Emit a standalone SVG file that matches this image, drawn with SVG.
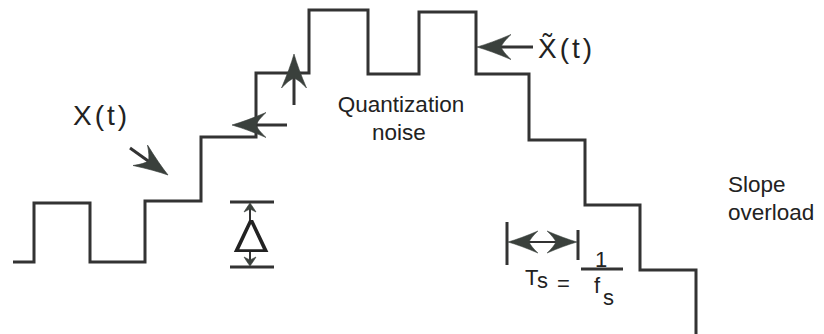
<svg xmlns="http://www.w3.org/2000/svg" xmlns:xlink="http://www.w3.org/1999/xlink" width="824" height="334" viewBox="0 0 824 334">
<style>
.ln{fill:none;stroke:#333;stroke-width:3;stroke-linejoin:miter;stroke-linecap:butt}
.hd{fill:#3a403c;stroke:#3a403c;stroke-width:0.6;stroke-linejoin:round}
.t{font-family:"Liberation Sans",Arial,Helvetica,sans-serif;fill:#222;font-size:22.5px}
.big{font-size:28px;letter-spacing:3px}
.m{font-size:22px}
.dl{font-family:Inter,"Liberation Sans",sans-serif;font-weight:350;font-size:44px}
</style>
<defs>
<path id="head" d="M0,0 Q-14,-4 -34,-12.5 Q-26,-5 -24,0 Q-26,5 -34,12.5 Q-14,4 0,0 Z"/>
<path id="small" d="M0,0 Q-4,-3 -9,-6 Q-7,-2 -6,0 Q-7,2 -9,6 Q-4,3 0,0 Z"/>
</defs>
<rect width="824" height="334" fill="#fff"/>
<g id="staircase">
<path class="ln" d="M13,262 H34 V203 H90 V262 H145 V201 H201 V137 H256 V73 H309 V10 H368 V74 H419 V12 H476 V74 H529 V140 H585 V205 H640 V270 H696 V334"/>
</g>
<g id="connectors">
<line class="ln" x1="130" y1="148" x2="151" y2="163"/>
<use href="#head" class="hd" transform="translate(168,175) rotate(35.4)"/>
<line class="ln" x1="287" y1="125" x2="254" y2="125"/>
<use href="#head" class="hd" transform="translate(232,125) rotate(180)"/>
<line class="ln" x1="294" y1="105" x2="294" y2="76"/>
<use href="#head" class="hd" transform="translate(294,54) rotate(-90)"/>
<line class="ln" x1="533" y1="47" x2="500" y2="47"/>
<use href="#head" class="hd" transform="translate(477,47) rotate(180)"/>
<line class="ln" x1="507" y1="222" x2="507" y2="265"/>
<line class="ln" x1="578" y1="230" x2="578" y2="260"/>
<line class="ln" x1="520" y1="242" x2="565" y2="242" style="stroke-width:2"/>
<use href="#head" class="hd" transform="translate(508,242) rotate(180) scale(0.88)"/>
<use href="#head" class="hd" transform="translate(577,242) scale(0.88)"/>
<line class="ln" x1="230" y1="202" x2="274" y2="202"/>
<line class="ln" x1="230" y1="267" x2="274" y2="267"/>
<line class="ln" x1="250" y1="209" x2="250" y2="220" style="stroke-width:2"/>
<use href="#small" class="hd" transform="translate(250,203) rotate(-90)"/>
<line class="ln" x1="250" y1="251" x2="250" y2="260" style="stroke-width:2"/>
<use href="#small" class="hd" transform="translate(250,266) rotate(90)"/>
</g>
<g id="labels">
<text class="t big" x="73" y="125">X(t)</text>
<text class="t big" x="538" y="58">X&#x303;(t)</text>
<text class="t" x="401" y="112" text-anchor="middle">Quantization</text>
<text class="t" x="399" y="140" text-anchor="middle">noise</text>
<text class="t" x="728" y="192">Slope</text>
<text class="t" x="728" y="220">overload</text>
<text class="t dl" x="0" y="252" text-anchor="middle" transform="translate(251,0) scale(1.3,1)">Δ</text>
<text class="t m" x="525" y="285">T</text>
<text class="t m" x="537" y="288">s</text>
<text class="t m" x="557" y="291">=</text>
<line class="ln" x1="581" y1="269" x2="623" y2="269"/>
<text class="t m" x="601" y="267" text-anchor="middle">1</text>
<text class="t m" x="594" y="293">f</text>
<text class="t m" x="603" y="305">s</text>
</g>
</svg>
